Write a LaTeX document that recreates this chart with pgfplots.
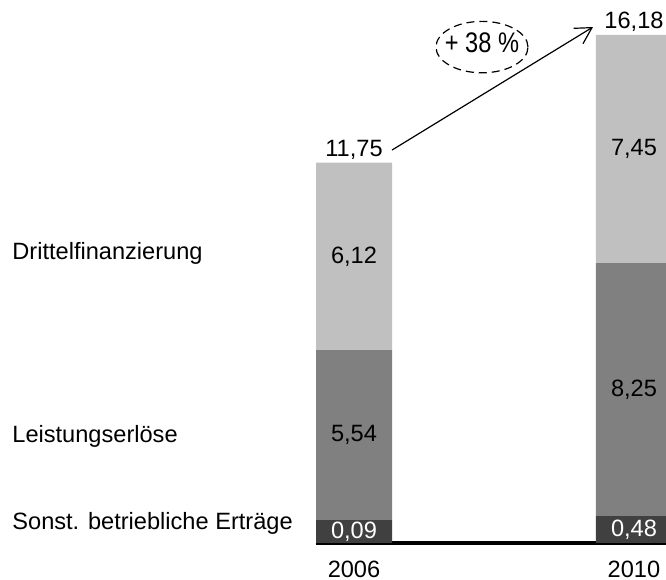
\documentclass[border=0pt]{standalone}
\usepackage{graphicx}
\usepackage{pgfplots}
\pgfplotsset{compat=1.18}
\usepackage{fontspec}
\setmainfont{Liberation Sans}
\usetikzlibrary{arrows.meta}
\definecolor{lightg}{RGB}{192,192,192}
\definecolor{midg}{RGB}{128,128,128}
\definecolor{darkg}{RGB}{64,64,64}
\pgfplotsset{
  base/.style={scale only axis, width=182pt, height=271.5pt,
    at={(158pt,18.5pt)}, anchor=south west,
    xmin=-0.135714, xmax=1.164286, ymin=0, ymax=17.716, clip=false},
}
\newcommand{\lbl}{\fontsize{11.8pt}{14pt}\selectfont}
\begin{document}
\begin{tikzpicture}
% category labels on the left
\node[anchor=base west, inner sep=0pt, font=\lbl] at (6pt,160.5pt) {Drittelfinanzierung};
\node[anchor=base west, inner sep=0pt, font=\lbl] at (6pt,68.5pt) {Leistungserlöse};
\node[anchor=base west, inner sep=0pt, font=\lbl] at (6pt,25pt) {Sonst. betriebliche Erträge};

\begin{axis}[base, ybar stacked, bar width=38pt,
  axis y line=none, axis x line=bottom,
  x axis line style={line width=1.75pt, -},
  xtick={0,1}, xticklabels={2006,2010},
  xtick style={draw=none}, ytick=\empty,
  xticklabel style={anchor=base, yshift=-15pt, font=\lbl},
]
\addplot[fill=darkg, draw=none] coordinates {(0,0.75) (1,0.88)};
\addplot[fill=midg, draw=none] coordinates {(0,5.54) (1,8.25)};
\addplot[fill=lightg, draw=none] coordinates {(0,6.12) (1,7.45)};
\end{axis}

\begin{axis}[base, axis lines=none, xtick=\empty, ytick=\empty]
% segment values (black)
\addplot[draw=none, mark=none, nodes near coords, point meta=explicit symbolic,
  every node near coord/.append style={anchor=center, font=\lbl, text=black, inner sep=0pt}]
  table[meta=label] {
x y label
0 3.52 5,54
0 9.35 6,12
1 5.005 8,25
1 12.855 7,45
};
% small segment values (white)
\addplot[draw=none, mark=none, nodes near coords, point meta=explicit symbolic,
  every node near coord/.append style={anchor=center, font=\lbl, text=white, inner sep=0pt}]
  table[meta=label] {
x y label
0 0.375 0,09
1 0.44 0,48
};
% totals
\addplot[draw=none, mark=none, nodes near coords, point meta=explicit symbolic,
  every node near coord/.append style={anchor=base, font=\lbl, text=black, inner sep=0pt, yshift=3.25pt}]
  table[meta=label] {
x y label
0 12.41 11,75
1 16.58 16,18
};
\draw[line width=0.6pt, -{Straight Barb[length=8pt, width=9pt, line width=0.6pt]}]
  (axis cs:0.1357,12.82) -- (axis cs:0.8536,16.835);
\draw[line width=0.6pt, dash pattern=on 4pt off 2.5pt]
  (axis cs:0.4571,16.18) ellipse [x radius=23pt, y radius=12.85pt];
\node[font=\lbl, inner sep=0pt] at (axis cs:0.4571,16.31) {\scalebox{1}[1.2]{+ 38 \%}};
\end{axis}
\pgfresetboundingbox
\path[use as bounding box] (0,0) rectangle (333pt,290pt);
\end{tikzpicture}
\end{document}
